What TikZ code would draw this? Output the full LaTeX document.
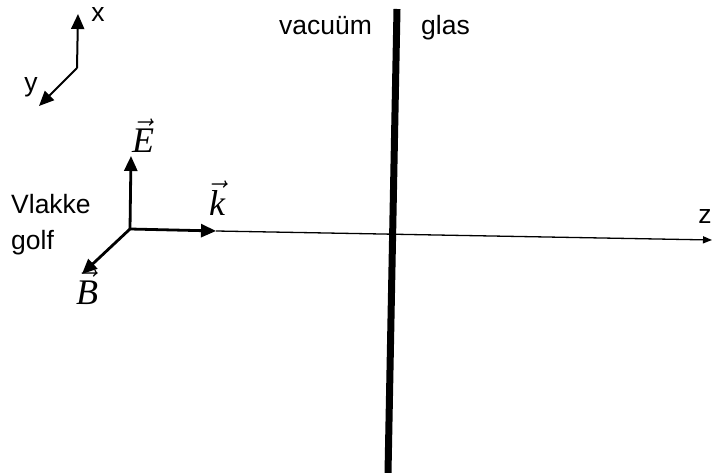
\documentclass[tikz,border=0pt]{standalone}
\usepackage{fontspec}
\setmainfont{Liberation Sans}
\newfontfamily\tnr{Liberation Serif}
\usetikzlibrary{arrows.meta}
\newcommand\myvec[1]{\scalebox{1.8}{\fontsize{20}{22}\selectfont$\vec{\mbox{\tnr\itshape #1}}$}}
\begin{document}
\begin{tikzpicture}[x=1pt,y=-1pt,
  lbl/.style={font=\fontsize{26.5}{28}\selectfont,inner sep=0pt},
  mlbl/.style={inner sep=0pt},
  vec/.style={line width=2.8pt,-{Triangle[length=15pt,width=13pt]}},
  thinax/.style={line width=1.3pt,-{Triangle[length=9pt,width=7pt]}}]
\useasboundingbox (0,0) rectangle (712,473);
% coordinate system
\coordinate (o1) at (77,68);
\coordinate (xt) at (78,14);
\coordinate (yt) at (39,106);
\draw[vec,line width=2pt] (o1) -- (xt);
\draw[vec,line width=2pt] (o1) -- (yt);
\node[lbl] (xl) at (98,15) {x};
\node[lbl] (yl) at (31,87) {y};
% interface
\coordinate (it) at (397,9);
\coordinate (ib) at (388,473);
\draw[line width=7pt] (it) -- (ib);
\node[lbl,anchor=base west] (vac) at (279,35) {vacuüm};
\node[lbl,anchor=base west] (gl) at (421,35) {glas};
% wave
\coordinate (o) at (130,229);
\coordinate (kt) at (216,231);
\coordinate (zt) at (712,240);
\coordinate (et) at (131,156);
\coordinate (bt) at (82,274);
\draw[thinax] (kt) -- (zt);
\draw[vec] (o) -- (kt);
\draw[vec] (o) -- (et);
\draw[vec] (o) -- (bt);
\node[lbl] (zl) at (705,216) {z};
\node[mlbl,anchor=base] (el) at (143,153) {\myvec{E}};
\node[mlbl,anchor=base] (kl) at (217,216) {\myvec{k}};
\node[mlbl,anchor=base] (bl) at (87,304) {\myvec{B}};
\node[lbl,anchor=base west] (vg) at (11,214) {Vlakke};
\node[lbl,anchor=base west] (vg2) at (11,250) {golf};
\end{tikzpicture}
\end{document}
